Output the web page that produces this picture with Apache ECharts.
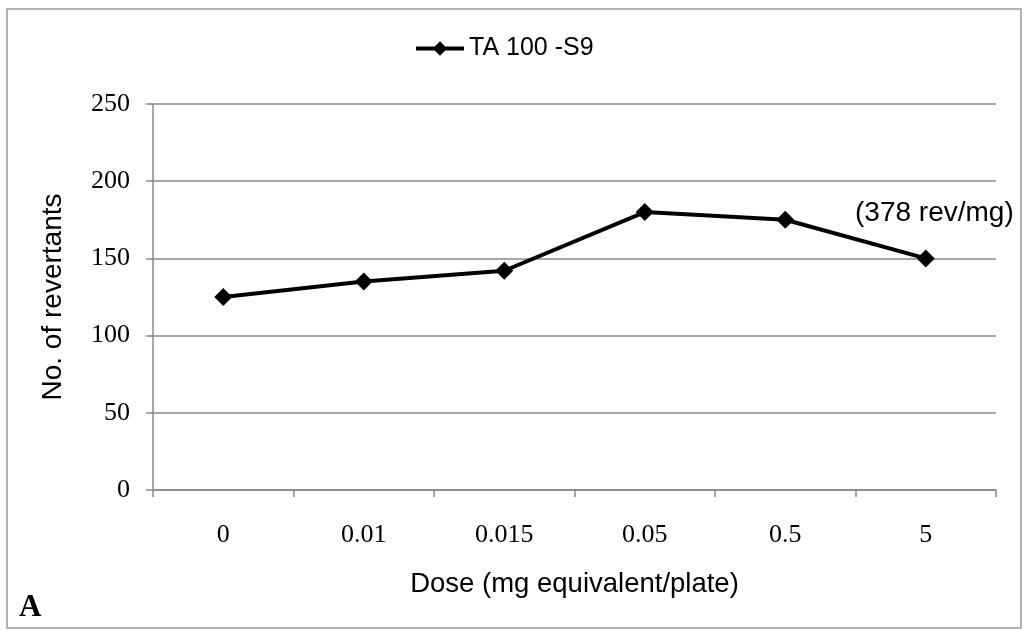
<!DOCTYPE html>
<html>
<head>
<meta charset="utf-8">
<style>
  html, body { margin: 0; padding: 0; background: #fff; }
  #chart { width: 1032px; height: 630px; }
</style>
<script src="https://cdn.jsdelivr.net/npm/echarts@6/dist/echarts.min.js"></script>
</head>
<body>
<div id="chart"></div>
<script>
// Dose levels (mg equivalent per plate) and revertant counts for TA 100 without S9
const doses = ['0', '0.01', '0.015', '0.05', '0.5', '5'];
const revertants = [125, 135, 142, 180, 175, 150];
const seriesName = 'TA 100 -S9';
const yTicks = { min: 0, max: 250, interval: 50 };
const note = '(378 rev/mg)';
const panelTag = 'A';

const SANS = 'Liberation Sans, Arial, sans-serif';
const SERIF = 'Liberation Serif, Times New Roman, serif';

const chart = echarts.init(document.getElementById('chart'), null, { renderer: 'canvas' });

chart.setOption({
  backgroundColor: '#ffffff',
  animation: false,
  legend: {
    top: 31,
    left: 409,
    itemWidth: 48,
    itemHeight: 18,
    itemGap: 4,
    lineStyle: { width: 4, color: '#000' },
    itemStyle: { color: '#000' },
    textStyle: { fontFamily: SANS, fontSize: 25, color: '#000' },
    data: [seriesName]
  },
  grid: { left: 153, right: 36, top: 104, bottom: 140 },
  xAxis: {
    type: 'category',
    data: doses,
    boundaryGap: true,
    name: 'Dose (mg equivalent/plate)',
    nameLocation: 'middle',
    nameGap: 80,
    nameTextStyle: { fontFamily: SANS, fontSize: 27.5, color: '#000' },
    axisLine: { lineStyle: { color: '#888', width: 1.5 } },
    axisTick: { show: true, length: 7, lineStyle: { color: '#888', width: 1.5 } },
    axisLabel: { fontFamily: SERIF, fontSize: 26, color: '#000', margin: 32 }
  },
  yAxis: {
    type: 'value',
    min: yTicks.min,
    max: yTicks.max,
    interval: yTicks.interval,
    name: 'No. of revertants',
    nameLocation: 'middle',
    nameGap: 86,
    nameTextStyle: { fontFamily: SANS, fontSize: 28, color: '#000' },
    axisLine: { show: true, lineStyle: { color: '#888', width: 1.5 } },
    axisTick: { show: true, length: 7, lineStyle: { color: '#888', width: 1.5 } },
    axisLabel: { fontFamily: SERIF, fontSize: 26, color: '#000', margin: 23 },
    splitLine: { show: true, lineStyle: { color: '#888', width: 1.5 } }
  },
  series: [{
    name: seriesName,
    type: 'line',
    data: revertants,
    symbol: 'diamond',
    symbolSize: 18,
    lineStyle: { color: '#000', width: 4 },
    itemStyle: { color: '#000' },
    label: { show: false }
  }],
  graphic: [
    {
      type: 'rect',
      shape: { x: 7, y: 9, width: 1014, height: 619 },
      style: { fill: 'none', stroke: '#999', lineWidth: 1.5 },
      silent: true
    },
    {
      type: 'text',
      left: 855,
      top: 199,
      style: { text: note, fontFamily: SANS, fontSize: 28, fill: '#000' }
    },
    {
      type: 'text',
      left: 19,
      top: 592,
      style: { text: panelTag, fontFamily: SERIF, fontSize: 31, fontWeight: 'bold', fill: '#000' }
    }
  ]
});
</script>
</body>
</html>
